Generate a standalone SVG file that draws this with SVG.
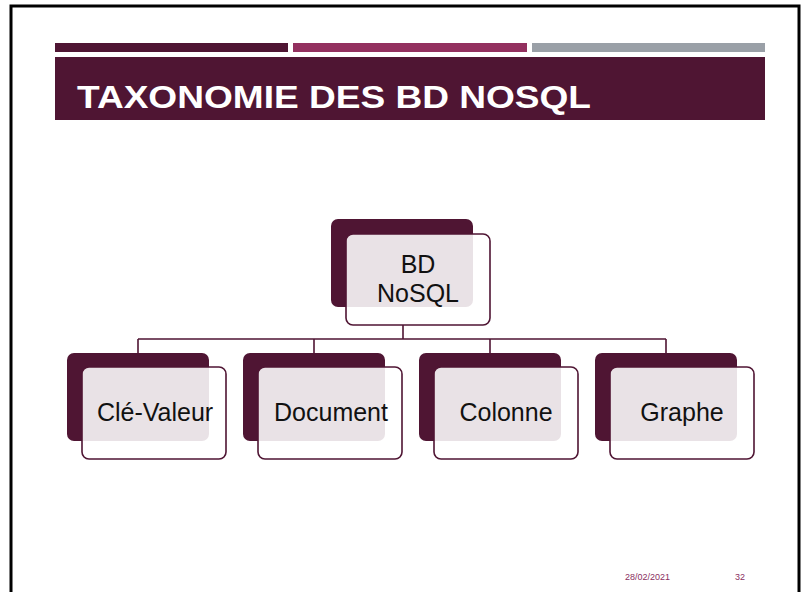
<svg xmlns="http://www.w3.org/2000/svg" width="803" height="592" viewBox="0 0 803 592">
<style>
.back{fill:#4f1533}
.front{fill:#ffffff;fill-opacity:0.88;stroke:#4f1533;stroke-width:1.6}
.lbl{font-family:"Gill Sans","Liberation Sans","DejaVu Sans",sans-serif;font-size:25px;fill:#111;text-anchor:middle}
.conn{stroke:#4f1533;stroke-width:1.6;fill:none}
.foot{font-family:"Liberation Sans",sans-serif;font-size:9px;fill:#8b2f5f}
</style>
<rect x="0" y="0" width="803" height="592" fill="#fff"/>
<rect x="11" y="6" width="788" height="600" fill="none" stroke="#000" stroke-width="3"/>
<rect x="55" y="43" width="233" height="9" fill="#4f1533"/>
<rect x="293" y="43" width="234" height="9" fill="#93305f"/>
<rect x="532" y="43" width="233" height="9" fill="#9aa0a7"/>
<rect x="55" y="57" width="710" height="63" fill="#4f1533"/>
<text x="77" y="108" font-family="'Liberation Sans',sans-serif" font-weight="bold" font-size="32" fill="#fff" textLength="514" lengthAdjust="spacingAndGlyphs">TAXONOMIE DES BD NOSQL</text>
<g id="connectors">
<path class="conn" d="M403 325V339M138 339H666M138 339V353M314 339V353M490 339V353M666 339V353"/>
</g>
<g id="root">
<rect class="back" x="331" y="219" width="142" height="88" rx="7"/>
<rect class="front" x="346" y="234" width="144" height="91" rx="7"/>
<text class="lbl" x="418" y="273">BD</text>
<text class="lbl" x="418" y="302">NoSQL</text>
</g>
<g id="cle-valeur">
<rect class="back" x="67" y="353" width="142" height="88" rx="7"/>
<rect class="front" x="82" y="367" width="144" height="92" rx="7"/>
<text class="lbl" x="155" y="421">Clé-Valeur</text>
</g>
<g id="document">
<rect class="back" x="243" y="353" width="142" height="88" rx="7"/>
<rect class="front" x="258" y="367" width="144" height="92" rx="7"/>
<text class="lbl" x="331" y="421">Document</text>
</g>
<g id="colonne">
<rect class="back" x="419" y="353" width="142" height="88" rx="7"/>
<rect class="front" x="434" y="367" width="144" height="92" rx="7"/>
<text class="lbl" x="506" y="421">Colonne</text>
</g>
<g id="graphe">
<rect class="back" x="595" y="353" width="142" height="88" rx="7"/>
<rect class="front" x="610" y="367" width="144" height="92" rx="7"/>
<text class="lbl" x="682" y="421">Graphe</text>
</g>
<text class="foot" x="625" y="580">28/02/2021</text>
<text class="foot" x="735" y="580">32</text>
</svg>
